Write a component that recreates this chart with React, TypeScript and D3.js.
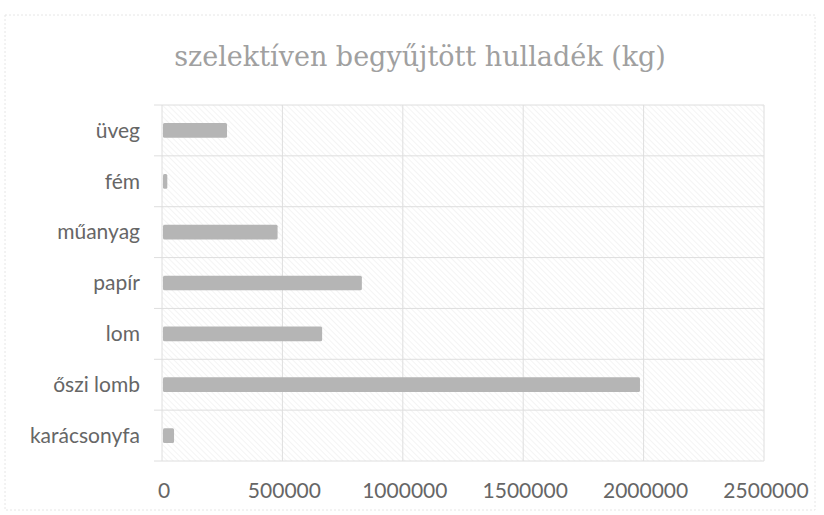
import { useEffect, useRef } from 'react'
import * as d3 from 'd3'

const categories = ['üveg', 'fém', 'műanyag', 'papír', 'lom', 'őszi lomb', 'karácsonyfa']
const values = [270000, 22000, 480000, 830000, 665000, 1985000, 50000]
const xTicks = [0, 500000, 1000000, 1500000, 2000000, 2500000]
const title = 'szelektíven begyűjtött hulladék (kg)'

export default function App() {
  const svgRef = useRef<SVGSVGElement>(null)

  useEffect(() => {
    document.body.style.margin = '0'
    if (!svgRef.current) return
    renderChart()
  }, [])

  const renderChart = () => {
    if (!svgRef.current) return

    const width = 824
    const height = 515
    const plot = { left: 162, right: 764, top: 105, bottom: 461 }

    d3.select(svgRef.current).selectAll('*').remove()

    const svg = d3.select(svgRef.current)
      .attr('width', width)
      .attr('height', height)
      .attr('viewBox', [0, 0, width, height])

    // diagonal hatch like the scanned background
    const defs = svg.append('defs')
    const pat = defs.append('pattern')
      .attr('id', 'hatch')
      .attr('width', 4)
      .attr('height', 4)
      .attr('patternUnits', 'userSpaceOnUse')
      .attr('patternTransform', 'rotate(-45)')
    pat.append('line')
      .attr('x1', 0).attr('y1', 0).attr('x2', 0).attr('y2', 4)
      .attr('stroke', '#ededed')
      .attr('stroke-width', 1.2)

    svg.append('rect')
      .attr('width', width).attr('height', height)
      .attr('fill', '#fff')

    // outer chart border
    svg.append('rect')
      .attr('x', 5).attr('y', 15)
      .attr('width', 810).attr('height', 495)
      .attr('fill', 'none')
      .attr('stroke', '#e6e6e6')
      .attr('stroke-dasharray', '2,2')

    const x = d3.scaleLinear()
      .domain([0, 2500000])
      .range([plot.left, plot.right])

    const y = d3.scaleBand()
      .domain(categories)
      .range([plot.top, plot.bottom])
      .paddingInner(0.71)
      .paddingOuter(0.355)

    const yBand = d3.scaleBand()
      .domain(categories)
      .range([plot.top, plot.bottom])

    // plot background
    svg.append('rect')
      .attr('x', plot.left)
      .attr('y', plot.top)
      .attr('width', plot.right - plot.left)
      .attr('height', plot.bottom - plot.top)
      .attr('fill', 'url(#hatch)')

    // vertical gridlines
    svg.append('g')
      .selectAll('line')
      .data(xTicks)
      .join('line')
      .attr('x1', d => x(d)).attr('x2', d => x(d))
      .attr('y1', plot.top).attr('y2', plot.bottom)
      .attr('stroke', '#dedede')
      .attr('stroke-width', 1)

    // horizontal band lines
    const bandEdges = [plot.top, ...categories.map(c => (yBand(c) as number) + yBand.bandwidth())]
    svg.append('g')
      .selectAll('line')
      .data(bandEdges)
      .join('line')
      .attr('x1', plot.left - 8).attr('x2', plot.right)
      .attr('y1', d => d).attr('y2', d => d)
      .attr('stroke', '#dedede')
      .attr('stroke-width', 1)

    // bars
    svg.append('g')
      .selectAll('rect')
      .data(values)
      .join('rect')
      .attr('x', x(0) + 1)
      .attr('y', (d, i) => y(categories[i]) as number)
      .attr('width', d => Math.max(4, x(d) - x(0) - 1))
      .attr('height', y.bandwidth())
      .attr('rx', 1.5)
      .attr('fill', '#b5b5b5')

    // category labels
    svg.append('g')
      .selectAll('text')
      .data(categories)
      .join('text')
      .text(d => d)
      .attr('x', 140)
      .attr('y', d => (yBand(d) as number) + yBand.bandwidth() / 2)
      .attr('dy', '0.35em')
      .attr('text-anchor', 'end')
      .attr('fill', '#666')
      .attr('font-family', 'Lato, sans-serif')
      .attr('font-size', '21px')

    // x tick labels
    svg.append('g')
      .selectAll('text')
      .data(xTicks)
      .join('text')
      .text(d => String(d))
      .attr('x', d => x(d) + 2)
      .attr('y', 491)
      .attr('dy', '0.35em')
      .attr('text-anchor', 'middle')
      .attr('fill', '#666')
      .attr('font-family', 'Lato, sans-serif')
      .attr('font-size', '21px')

    // title
    svg.append('text')
      .text(title)
      .attr('x', 420)
      .attr('y', 66)
      .attr('text-anchor', 'middle')
      .attr('fill', '#a0a0a0')
      .attr('font-family', '"DejaVu Serif", serif')
      .attr('font-size', '27px')
  }

  return <svg ref={svgRef} style={{ display: 'block' }}></svg>
}
